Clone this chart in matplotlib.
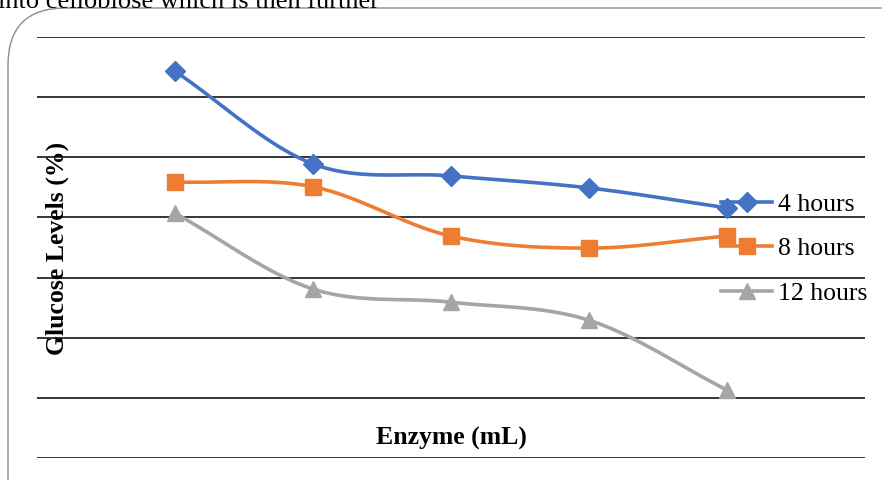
import matplotlib
matplotlib.use("Agg")
import matplotlib.pyplot as plt
import numpy as np
from matplotlib.patches import FancyBboxPatch
from matplotlib.lines import Line2D

# values (no tick labels shown, arbitrary units)
enzyme = [1, 2, 3, 4, 5]
hours_4 = [6.43, 4.89, 4.69, 4.49, 4.16]
hours_8 = [4.59, 4.51, 3.69, 3.49, 3.69]
hours_12 = [4.07, 2.81, 2.59, 2.29, 1.13]
labels = ["4 hours", "8 hours", "12 hours"]


def smooth(x, y, n=30):
    # catmull-rom through the points, like excel's smoothed line
    x = np.asarray(x, float)
    y = np.asarray(y, float)
    px = np.concatenate([[2 * x[0] - x[1]], x, [2 * x[-1] - x[-2]]])
    py = np.concatenate([[2 * y[0] - y[1]], y, [2 * y[-1] - y[-2]]])
    xs, ys = [], []
    t = np.linspace(0, 1, n)
    for i in range(1, len(px) - 2):
        for p, out in ((px, xs), (py, ys)):
            p0, p1, p2, p3 = p[i - 1], p[i], p[i + 1], p[i + 2]
            out.extend(0.5 * ((2 * p1) + (-p0 + p2) * t
                              + (2 * p0 - 5 * p1 + 4 * p2 - p3) * t ** 2
                              + (-p0 + 3 * p1 - 3 * p2 + p3) * t ** 3))
    return xs, ys


fig = plt.figure(figsize=(8.82, 4.8), dpi=100)
W, H = 882, 480
serif = "Liberation Serif"

# rounded frame around the chart, running off the right and bottom edges
box = FancyBboxPatch((8 / W, -0.2), 1.2, 1.2 - 8 / H,
                     boxstyle="round,pad=0,rounding_size=0.065",
                     transform=fig.transFigure, fill=False,
                     edgecolor="#8c8c8c", linewidth=1.0, mutation_aspect=W / H)
fig.patches.append(box)

fig.text(-0.002, 1.0 + 9 / H, "into cellobiose which is then further",
         fontsize=19, family=serif, va="top", ha="left")

ax = fig.add_axes([37 / W, 1 - 458 / H, (865 - 37) / W, (458 - 37) / H])
ax.set_xlim(0, 6)
ax.set_ylim(0, 7)
for s in ax.spines.values():
    s.set_visible(False)
ax.set_xticks([])
ax.set_yticks([])
for g in range(8):
    ax.axhline(g, color="black", linewidth=1.1, zorder=1)

colors = ["#4472C4", "#ED7D31", "#A5A5A5"]
markers = ["D", "s", "^"]
msizes = [10, 12, 12]
series = [hours_4, hours_8, hours_12]
for ys, c, m, ms in zip(series, colors, markers, msizes):
    sx, sy = smooth(enzyme, ys)
    ax.plot(sx, sy, color=c, linewidth=2.6, zorder=3)
    ax.plot(enzyme, ys, linestyle="none", marker=m, markersize=ms, color=c, zorder=4)

handles = [Line2D([], [], color=c, marker=m, markersize=ms, linewidth=2.6)
           for c, m, ms in zip(colors, markers, msizes)]
leg = ax.legend(handles, labels, loc="upper left", bbox_to_anchor=(0.82, 0.642),
                frameon=False, handlelength=2.0, handletextpad=0.2, labelspacing=0.84,
                prop={"family": serif, "size": 18.5}, borderaxespad=0, borderpad=0.2)

ax.text(3.0, 0.33, "Enzyme (mL)", ha="center", va="center", fontsize=18.5,
        fontweight="bold", family=serif)
fig.text(57 / W, 1 - 248 / H, "Glucose Levels (%)", rotation=90, ha="center",
         va="center", fontsize=18.5, fontweight="bold", family=serif)

fig.savefig("out.png", dpi=100)
